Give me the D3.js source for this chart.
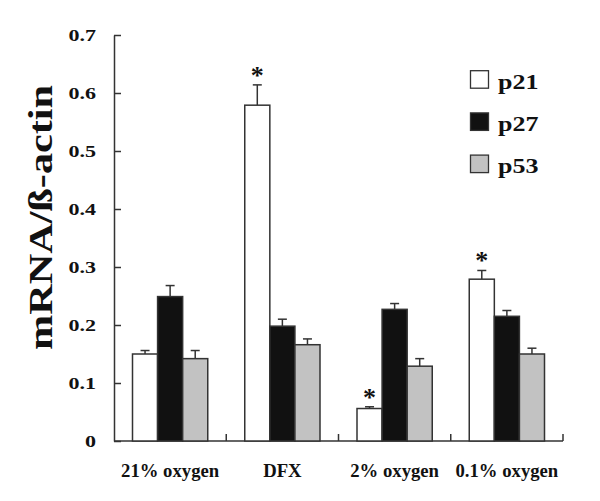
<!DOCTYPE html>
<html><head><meta charset="utf-8">
<script src="https://cdn.jsdelivr.net/npm/d3@7"></script>
<style>
html,body{margin:0;padding:0;background:#fff;}
text{font-family:"Liberation Serif","Times New Roman",serif;font-weight:bold;fill:#111;}
</style></head>
<body>
<svg id="chart" width="600" height="501"></svg>
<script>
const categories = ["21% oxygen", "DFX", "2% oxygen", "0.1% oxygen"];
const series = ["p21", "p27", "p53"];
const p21 = [0.150, 0.579, 0.056, 0.279];
const p27 = [0.249, 0.198, 0.227, 0.215];
const p53 = [0.142, 0.166, 0.129, 0.150];
const p21Err = [0.006, 0.035, 0.003, 0.015];
const p27Err = [0.019, 0.012, 0.010, 0.010];
const p53Err = [0.014, 0.010, 0.013, 0.010];
const significant = [[false, true, true, true], [false, false, false, false], [false, false, false, false]];
const yTicks = [0, 0.1, 0.2, 0.3, 0.4, 0.5, 0.6, 0.7];
const yLabel = "mRNA/ß-actin";

const values = [p21, p27, p53];
const errors = [p21Err, p27Err, p53Err];
const fills = ["#ffffff", "#111111", "#c2c2c2"];
const stroke = "#333";

const svg = d3.select("#chart");
const x0 = d3.scaleBand().domain(categories).range([114, 563]).padding(0);
const x1 = d3.scaleBand().domain(series).range([18.5, x0.bandwidth() - 18.5]).padding(0);
const y = d3.scaleLinear().domain([0, 0.7]).range([441, 35]);

// y axis
const yAxis = svg.append("g").attr("transform", "translate(114,0)")
  .call(d3.axisLeft(y).tickValues(yTicks).tickSizeInner(-7).tickSizeOuter(0)
    .tickFormat(d => d === 0 ? "0" : d3.format(".1f")(d)));
yAxis.select(".domain").attr("stroke", stroke).attr("stroke-width", 1.5);
yAxis.selectAll(".tick line").attr("stroke", stroke).attr("stroke-width", 1.5);
yAxis.selectAll(".tick text")
  .attr("x", 0).attr("dy", "0.34em").attr("text-anchor", "end")
  .attr("transform", "translate(-18,0) scale(1.26,1)")
  .style("font-size", "17.5px").style("font-family", "'Liberation Serif','Times New Roman',serif")
  .style("font-weight", "bold").attr("fill", "#111");

// x axis line + boundary ticks
const xg = svg.append("g");
xg.append("line").attr("x1", x0.range()[0]).attr("x2", x0.range()[1])
  .attr("y1", y(0)).attr("y2", y(0)).attr("stroke", stroke).attr("stroke-width", 1.5);
const bounds = categories.map(c => x0(c) + x0.bandwidth()).slice(0);
xg.selectAll("line.bt").data(bounds).join("line").attr("class", "bt")
  .attr("x1", d => d).attr("x2", d => d).attr("y1", y(0)).attr("y2", y(0) - 7)
  .attr("stroke", stroke).attr("stroke-width", 1.5);
xg.selectAll("text.cat").data(categories).join("text").attr("class", "cat")
  .attr("x", d => x0(d) + x0.bandwidth() / 2).attr("y", 477)
  .attr("text-anchor", "middle").style("font-size", "18.7px").text(d => d);

// bars
series.forEach((s, si) => {
  const g = svg.append("g");
  categories.forEach((c, ci) => {
    const v = values[si][ci], e = errors[si][ci];
    const bx = x0(c) + x1(s), bw = x1.bandwidth();
    const cx = bx + bw / 2;
    // error bar
    g.append("line").attr("x1", cx).attr("x2", cx).attr("y1", y(v)).attr("y2", y(v + e))
      .attr("stroke", stroke).attr("stroke-width", 1.5);
    g.append("line").attr("x1", cx - 4.5).attr("x2", cx + 4.5).attr("y1", y(v + e)).attr("y2", y(v + e))
      .attr("stroke", stroke).attr("stroke-width", 1.5);
    g.append("rect").attr("x", bx).attr("y", y(v)).attr("width", bw).attr("height", y(0) - y(v))
      .attr("fill", fills[si]).attr("stroke", stroke).attr("stroke-width", 1.5);
    if (significant[si][ci]) {
      g.append("text").attr("x", cx).attr("y", y(v + e) - 1).attr("text-anchor", "middle")
        .style("font-size", "26px").text("*");
    }
  });
});

// legend
const lg = svg.append("g");
series.forEach((s, i) => {
  const top = 70.7 + i * 42.2;
  lg.append("rect").attr("x", 470.5).attr("y", top).attr("width", 18).attr("height", 17.5)
    .attr("fill", fills[i]).attr("stroke", stroke).attr("stroke-width", 1.3);
  lg.append("text").attr("x", 0).attr("y", 0)
    .attr("transform", `translate(498,${top + 18.3}) scale(1.24,1)`)
    .style("font-size", "21px").text(s);
});

// y label
svg.append("text").attr("text-anchor", "middle")
  .attr("transform", "translate(51.5,217.5) rotate(-90) scale(1.28,1)")
  .style("font-size", "33px").text(yLabel);
</script>
</body></html>
